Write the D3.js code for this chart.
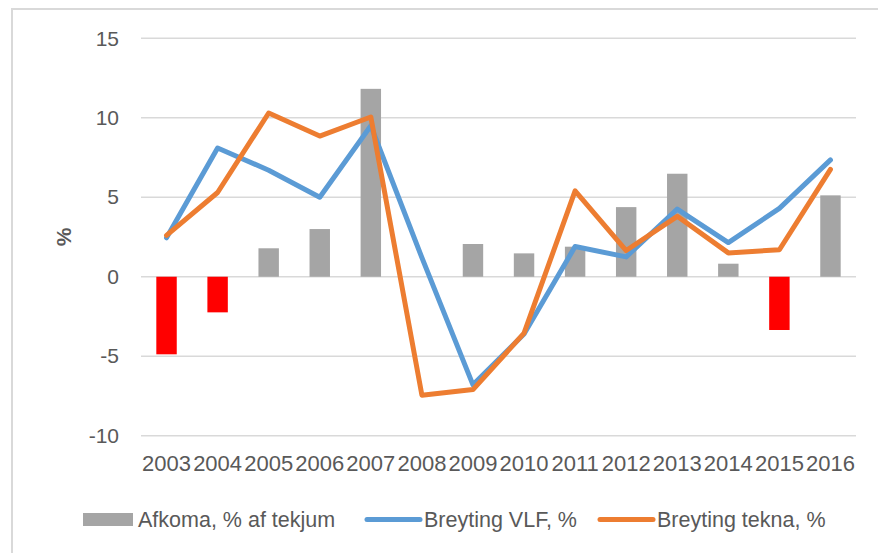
<!DOCTYPE html>
<html>
<head>
<meta charset="utf-8">
<script src="https://cdn.jsdelivr.net/npm/d3@7"></script>
<style>
  body { margin: 0; background: #fff; }
  #chart { width: 878px; height: 553px; }
  text { font-family: "Liberation Sans", Arial, sans-serif; fill: #595959; }
</style>
</head>
<body>
<div id="chart"></div>
<script>
// data
const years = ["2003","2004","2005","2006","2007","2008","2009","2010","2011","2012","2013","2014","2015","2016"]
const afkoma = [-4.88, -2.24, 1.79, 3.0, 11.82, null, 2.06, 1.47, 1.89, 4.38, 6.48, 0.82, -3.35, 5.12]
const breytingVLF = [2.45, 8.1, 6.7, 5.0, 9.5, 1.2, -6.8, -3.6, 1.9, 1.25, 4.25, 2.15, 4.3, 7.35]
const breytingTekna = [2.6, 5.3, 10.3, 8.85, 10.05, -7.45, -7.1, -3.55, 5.4, 1.65, 3.8, 1.5, 1.7, 6.75]
const yTicks = [-10, -5, 0, 5, 10, 15]

const legendItems = [
    { name: "Afkoma, % af tekjum", type: "bar", color: "#a5a5a5" },
    { name: "Breyting VLF, %", type: "line", color: "#5b9bd5" },
    { name: "Breyting tekna, %", type: "line", color: "#ed7d31" }
]

const W = 878, H = 553
const svg = d3.select("#chart").append("svg")
    .attr("width", W)
    .attr("height", H)

// outer chart frame
svg.append("rect")
    .attr("x", 12).attr("y", 9)
    .attr("width", W).attr("height", H)
    .attr("fill", "none")
    .attr("stroke", "#d9d9d9")
    .attr("stroke-width", 2)

const xScale = d3.scaleBand().domain(years).range([141, 856]).padding(0)
const yScale = d3.scaleLinear().domain([-10, 15]).range([435.7, 38.3])
const bw = xScale.bandwidth()
const cx = d => xScale(d) + bw / 2

// gridlines
svg.append("g")
    .selectAll("line")
    .data(yTicks)
    .join("line")
    .attr("x1", 141).attr("x2", 856)
    .attr("y1", d => yScale(d)).attr("y2", d => yScale(d))
    .attr("stroke", "#d9d9d9")
    .attr("stroke-width", 1.5)

// y axis labels (plain hyphen minus like the original)
const yAxis = d3.axisLeft(yScale).tickValues(yTicks).tickSize(0).tickPadding(0)
    .tickFormat(d => String(d))
const gy = svg.append("g")
    .attr("transform", "translate(119,0)")
    .call(yAxis)
gy.select(".domain").remove()
gy.selectAll("text")
    .attr("font-size", 21)
    .attr("font-family", null)
    .attr("fill", "#595959")

// x axis labels
const xAxis = d3.axisBottom(xScale).tickSize(0).tickPadding(0)
const gx = svg.append("g")
    .attr("transform", "translate(0,455)")
    .call(xAxis)
gx.select(".domain").remove()
gx.selectAll("text")
    .attr("font-size", 22)
    .attr("font-family", null)
    .attr("fill", "#595959")

// axis title
svg.append("text")
    .attr("transform", "translate(71,237) rotate(-90)")
    .attr("text-anchor", "middle")
    .attr("font-size", 21)
    .attr("font-weight", "bold")
    .text("%")

// bars
const barData = years.map((y, i) => ({ year: y, value: afkoma[i] })).filter(d => d.value != null)
svg.append("g")
    .selectAll("rect")
    .data(barData)
    .join("rect")
    .attr("x", d => cx(d.year) - bw * 0.2)
    .attr("width", bw * 0.4)
    .attr("y", d => yScale(Math.max(0, d.value)))
    .attr("height", d => Math.abs(yScale(d.value) - yScale(0)))
    .attr("fill", d => d.value < 0 ? "#ff0000" : "#a5a5a5")

// lines
const line = d3.line()
    .x(d => cx(d.year))
    .y(d => yScale(d.value))

const series = [
    { values: breytingVLF, color: "#5b9bd5" },
    { values: breytingTekna, color: "#ed7d31" }
]
series.forEach(s => {
    svg.append("path")
        .datum(years.map((y, i) => ({ year: y, value: s.values[i] })))
        .attr("d", line)
        .attr("fill", "none")
        .attr("stroke", s.color)
        .attr("stroke-width", 5)
        .attr("stroke-linejoin", "round")
        .attr("stroke-linecap", "round")
})

// legend
const legendX = [83, 365, 598]
const legend = svg.append("g")
legendItems.forEach((item, i) => {
    const g = legend.append("g").attr("transform", "translate(" + legendX[i] + ",519.5)")
    if (item.type == "bar") {
        g.append("rect")
            .attr("x", 0).attr("y", -6.5)
            .attr("width", 50).attr("height", 13)
            .attr("fill", item.color)
    } else {
        g.append("line")
            .attr("x1", 2).attr("x2", 55)
            .attr("stroke", item.color)
            .attr("stroke-width", 5)
            .attr("stroke-linecap", "round")
    }
    g.append("text")
        .attr("x", item.type == "bar" ? 55 : 59)
        .attr("dy", "0.36em")
        .attr("font-size", 21.5)
        .text(item.name)
})
</script>
</body>
</html>
